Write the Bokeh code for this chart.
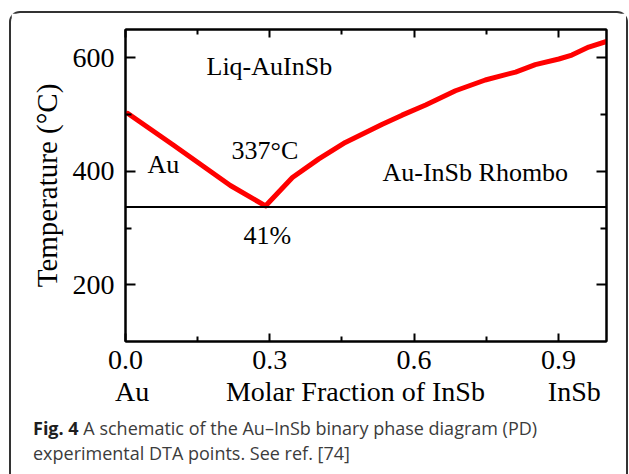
from bokeh.plotting import figure
from bokeh.layouts import column
from bokeh.models import FixedTicker, LinearAxis, Span, Label, Range1d, Div
from bokeh.embed import file_html
from bokeh.resources import INLINE

# ---- data ----
liquidus_x = [0.005, 0.10, 0.218, 0.291, 0.347, 0.402, 0.457, 0.534, 0.575,
              0.624, 0.686, 0.748, 0.811, 0.852, 0.901, 0.928, 0.963, 1.0]
liquidus_T = [502, 446, 375, 339, 389, 422, 451, 483, 499,
              517, 542, 561, 575, 588, 598, 605, 619, 629]
eutectic_T = 337

x_ticks = [0.0, 0.3, 0.6, 0.9]
x_tick_labels = ["0.0", "0.3", "0.6", "0.9"]
x_minor = [0.15, 0.45, 0.75]
y_ticks = [200, 400, 600]
y_tick_labels = ["200", "400", "600"]
y_minor = [300, 500]

x_titles = ["Au", "Molar Fraction of InSb", "InSb"]
x_title_pos = [0.014, 0.478, 0.933]
y_title = "Temperature (°C)"

caption_bold = "Fig. 4"
caption_line1 = "A schematic of the Au\u2013InSb binary phase diagram (PD)"
caption_line2 = "experimental DTA points. See ref. [74]"

X0, X1 = 0.0, 1.0
Y0, Y1 = 100, 650

# ---- layout (page pixels) ----
OX, OY = 11, 13                      # inner origin of the rounded frame
FL, FR, FT, FB = 125, 606, 29, 341   # plot frame on the page
W = 615
H_MAIN = 399
H_CAP = 62

SERIF = "Liberation Serif"
SANS = "Open Sans"
FS_IN = "26px"
FS_TICK = "28px"
FS_TITLE = "28px"
FS_YTITLE = "29px"


def xd(px):
    return X0 + (px - FL) / (FR - FL) * (X1 - X0)


def yd(py):
    return Y1 - (py - FT) / (FB - FT) * (Y1 - Y0)


p = figure(width=W, height=H_MAIN, x_range=Range1d(X0, X1), y_range=Range1d(Y0, Y1),
           output_backend="svg", toolbar_location=None,
           min_border_left=FL - OX, min_border_right=W - (FR - OX),
           min_border_top=FT - OY, min_border_bottom=H_MAIN - (FB - OY))
p.xgrid.visible = False
p.ygrid.visible = False
p.outline_line_color = "black"
p.outline_line_width = 2
p.background_fill_color = "white"
p.border_fill_color = "white"


def style_axis(ax, ticks, minor, labels, major_len, minor_len, show_labels, standoff):
    ax.ticker = FixedTicker(ticks=ticks, minor_ticks=minor)
    ax.major_tick_in = major_len
    ax.major_tick_out = 0
    ax.minor_tick_in = minor_len
    ax.minor_tick_out = 0
    ax.axis_line_width = 2
    ax.major_tick_line_width = 2
    ax.minor_tick_line_width = 2
    ax.axis_line_color = "black"
    ax.major_tick_line_color = "black"
    ax.minor_tick_line_color = "black"
    if show_labels:
        ax.major_label_overrides = {t: l for t, l in zip(ticks, labels)}
        ax.major_label_text_font = SERIF
        ax.major_label_text_font_size = FS_TICK
        ax.major_label_text_color = "black"
        ax.major_label_standoff = standoff
    else:
        ax.major_label_text_color = None
        ax.major_label_text_font_size = "1px"
        ax.major_label_standoff = 0


style_axis(p.xaxis[0], x_ticks, x_minor, x_tick_labels, 8, 5, True, 9)
style_axis(p.yaxis[0], y_ticks, y_minor, y_tick_labels, 10, 6, True, 11)
top_ax = LinearAxis()
right_ax = LinearAxis()
style_axis(top_ax, x_ticks, x_minor, x_tick_labels, 8, 5, False, 0)
style_axis(right_ax, y_ticks, y_minor, y_tick_labels, 10, 6, False, 0)
p.add_layout(top_ax, "above")
p.add_layout(right_ax, "right")

# y title
yax = p.yaxis[0]
yax.axis_label = y_title
yax.axis_label_text_font = SERIF
yax.axis_label_text_font_size = FS_YTITLE
yax.axis_label_text_font_style = "normal"
yax.axis_label_text_color = "black"
yax.axis_label_standoff = 7

# x titles as a second, tick-less axis below
title_ax = LinearAxis(ticker=FixedTicker(ticks=x_title_pos, minor_ticks=[]),
                      major_label_overrides={t: s for t, s in zip(x_title_pos, x_titles)})
title_ax.axis_line_color = None
title_ax.major_tick_line_color = None
title_ax.minor_tick_line_color = None
title_ax.major_tick_in = 0
title_ax.major_tick_out = 0
title_ax.major_label_text_font = SERIF
title_ax.major_label_text_font_size = FS_TITLE
title_ax.major_label_text_color = "black"
title_ax.major_label_standoff = 4
p.add_layout(title_ax, "below")

# eutectic line
p.add_layout(Span(location=eutectic_T, dimension="width", line_color="black", line_width=2))

# liquidus
p.line(liquidus_x, liquidus_T, line_color="#ff0000", line_width=5,
       line_join="round", line_cap="round")


def lab(text, px, py):
    p.add_layout(Label(x=xd(px), y=yd(py), text=text, text_font=SERIF,
                       text_font_size=FS_IN, text_align="left",
                       text_baseline="alphabetic", text_color="black"))


lab("Liq-AuInSb", 206, 66)
lab("Au", 147, 164)
lab("337°C", 231, 150)
lab("41%", 243, 235)
lab("Au-InSb Rhombo", 382, 172)

# ---- caption ----
cap_html = (
    '<div style="font-family:\'Open Sans\',sans-serif;font-size:18px;line-height:25px;'
    'color:#3c3c3c;padding:4px 0 0 %dpx;white-space:nowrap;">'
    '<b style="color:#1e1e1e;">%s</b> %s<br>%s</div>'
    % (33 - OX, caption_bold, caption_line1, caption_line2)
)
cap = Div(text=cap_html, width=W, height=H_CAP, margin=(0, 0, 0, 0))

layout = column(p, cap, spacing=0, margin=(OY - 2, 0, 0, OX - 2),
                styles={"border-top": "2px solid #333", "border-left": "2px solid #333",
                        "border-right": "2px solid #333",
                        "border-radius": "11px 11px 0 0",
                        "background-color": "white"})

open("out.html", "w").write(file_html(layout, INLINE))
